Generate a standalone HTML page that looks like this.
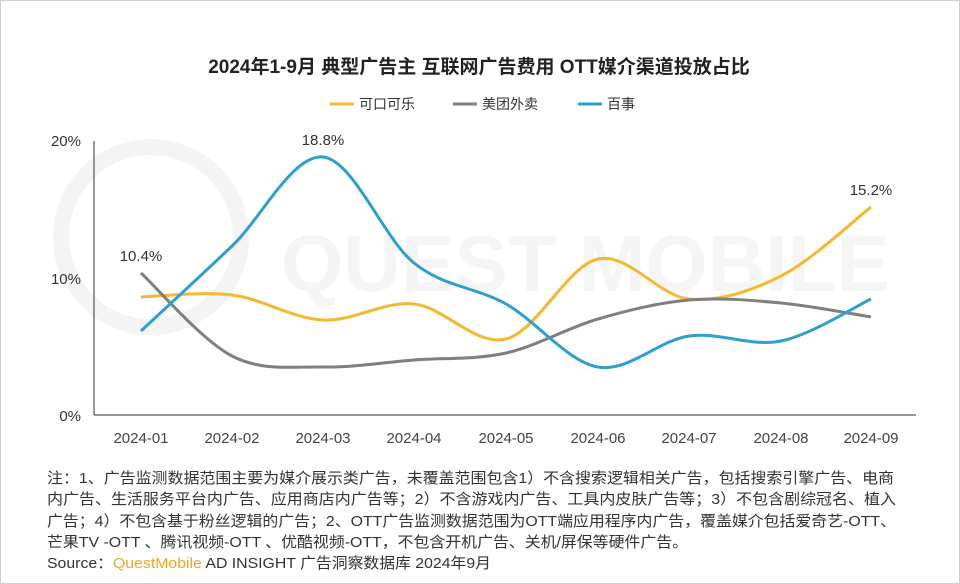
<!DOCTYPE html>
<html><head><meta charset="utf-8"><style>
body{margin:0;background:#fff;}
#w{position:relative;width:958px;height:582px;border:1px solid #d0d0d0;background:#fff;font-family:"Liberation Sans","Noto Sans CJK SC",sans-serif;overflow:hidden}
</style></head><body><div id="w">
<svg width="960" height="584" style="position:absolute;left:0;top:0" font-family="Liberation Sans, Noto Sans CJK SC, sans-serif">
<g fill="none" stroke="#f4f4f4" stroke-width="16">
<circle cx="150" cy="236" r="90"/>
</g>
<text x="280" y="290" font-size="80" fill="#f5f5f5" font-weight="bold">QUEST MOBILE</text>
<text x="478" y="72" font-size="19" font-weight="bold" fill="#222" text-anchor="middle">2024年1-9月 典型广告主 互联网广告费用 OTT媒介渠道投放占比</text>
<g font-size="14" fill="#333">
<line x1="329" y1="103" x2="353" y2="103" stroke="#f5b82e" stroke-width="3"/><text x="358" y="108">可口可乐</text>
<line x1="452" y1="103" x2="476" y2="103" stroke="#7f7f7f" stroke-width="3"/><text x="481" y="108">美团外卖</text>
<line x1="577" y1="103" x2="601" y2="103" stroke="#2e9fd0" stroke-width="3"/><text x="606" y="108">百事</text>
</g>
<line x1="93" y1="140" x2="93" y2="414" stroke="#333"/>
<line x1="93" y1="414" x2="915" y2="414" stroke="#333"/>
<g font-size="15" fill="#333" text-anchor="end">
<text x="80" y="145">20%</text><text x="80" y="283">10%</text><text x="80" y="420">0%</text>
</g>
<g font-size="15" fill="#444" text-anchor="middle" id="xl"></g>
<g id="lines" fill="none" stroke-width="3"></g>
<g font-size="15" fill="#333" text-anchor="middle">
<text x="140" y="260">10.4%</text><text x="322" y="144">18.8%</text><text x="870" y="194">15.2%</text>
</g>
<g font-size="15" fill="#333" lengthAdjust="spacingAndGlyphs">
<text x="46" y="482" textLength="847" lengthAdjust="spacingAndGlyphs">注：1、广告监测数据范围主要为媒介展示类广告，未覆盖范围包含1）不含搜索逻辑相关广告，包括搜索引擎广告、电商</text>
<text x="46" y="503" textLength="849" lengthAdjust="spacingAndGlyphs">内广告、生活服务平台内广告、应用商店内广告等；2）不含游戏内广告、工具内皮肤广告等；3）不包含剧综冠名、植入</text>
<text x="46" y="525" textLength="849" lengthAdjust="spacingAndGlyphs">广告；4）不包含基于粉丝逻辑的广告；2、OTT广告监测数据范围为OTT端应用程序内广告，覆盖媒介包括爱奇艺-OTT、</text>
<text x="46" y="546" textLength="641" lengthAdjust="spacingAndGlyphs">芒果TV -OTT 、腾讯视频-OTT 、优酷视频-OTT，不包含开机广告、关机/屏保等硬件广告。</text>
<text x="46" y="567" textLength="444" lengthAdjust="spacingAndGlyphs">Source：<tspan fill="#f5a623">QuestMobile</tspan> AD INSIGHT 广告洞察数据库 2024年9月</text>
</g>
</svg>
</div>
<script>
var xs=[140,231,322,413,505,597,688,780,870];
var ns="http://www.w3.org/2000/svg";
var xl=document.getElementById('xl');
xs.forEach(function(x,i){var t=document.createElementNS(ns,'text');t.setAttribute('x',x);t.setAttribute('y',442);t.textContent='2024-0'+(i+1);xl.appendChild(t);});
var S=[["#f5b82e",[296,294,319,303,338,258,298,275,206]],["#7f7f7f",[272,355,366,359,352,318,299,302,316]],["#2e9fd0",[330,245,156,262,303,366,335,340,298]]];
var g=document.getElementById('lines');
S.forEach(function(s){var y=s[1],d='M'+xs[0]+','+y[0];
for(var i=0;i<8;i++){var p0=i?i-1:0,p3=i<7?i+2:8;
var c1x=xs[i]+(xs[i+1]-xs[p0])/6,c1y=y[i]+(y[i+1]-y[p0])/6,c2x=xs[i+1]-(xs[p3]-xs[i])/6,c2y=y[i+1]-(y[p3]-y[i])/6;
d+=' C'+c1x+','+c1y+' '+c2x+','+c2y+' '+xs[i+1]+','+y[i+1];}
var p=document.createElementNS(ns,'path');p.setAttribute('d',d);p.setAttribute('stroke',s[0]);g.appendChild(p);});
</script>
</body></html>
